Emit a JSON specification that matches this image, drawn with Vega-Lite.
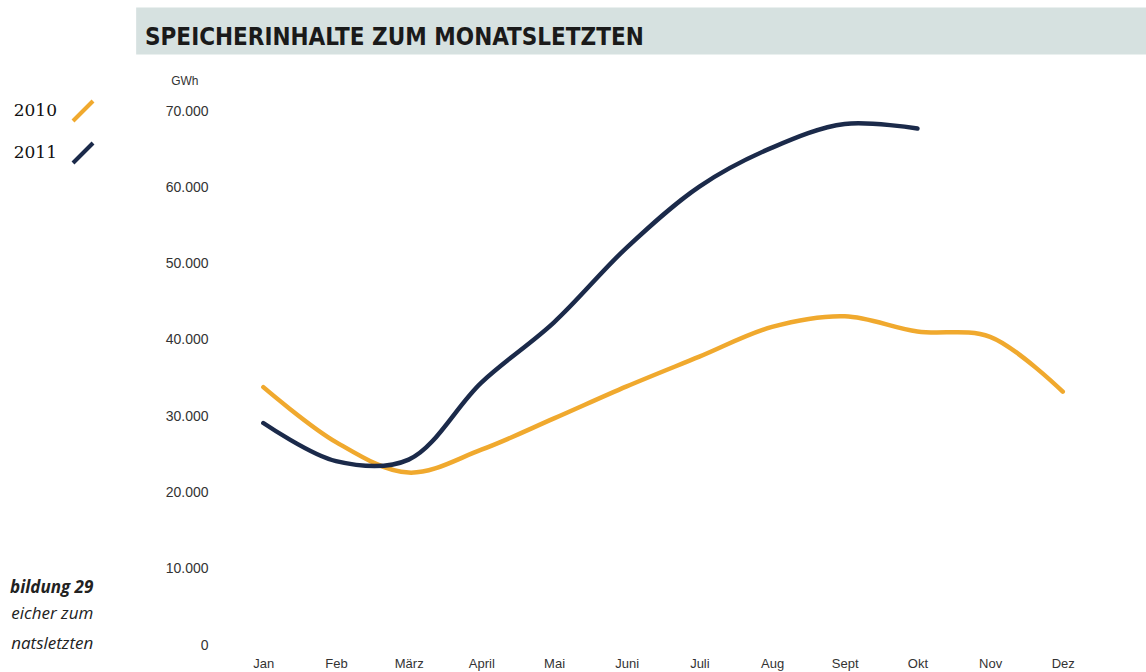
{
  "$schema": "https://vega.github.io/schema/vega-lite/v6.json",
  "width": 883,
  "height": 534,
  "autosize": {"type": "none"},
  "padding": {"left": 227, "top": 111, "right": 36, "bottom": 27},
  "background": "white",
  "config": {"view": {"stroke": null}},
  "title": {
    "text": "SPEICHERINHALTE ZUM MONATSLETZTEN",
    "anchor": "start",
    "frame": "group",
    "dx": -82,
    "offset": -61,
    "baseline": "alphabetic",
    "font": "Liberation Sans Narrow, DejaVu Sans Condensed, Liberation Sans, sans-serif",
    "fontSize": 24,
    "fontWeight": "bold",
    "color": "#1a1a1a",
    "zindex": 1
  },
  "datasets": {
    "speicher": [
      {"Monat": 1, "Jahr": "2010", "GWh": 33800},
      {"Monat": 2, "Jahr": "2010", "GWh": 26600},
      {"Monat": 3, "Jahr": "2010", "GWh": 22600},
      {"Monat": 4, "Jahr": "2010", "GWh": 25600},
      {"Monat": 5, "Jahr": "2010", "GWh": 29700},
      {"Monat": 6, "Jahr": "2010", "GWh": 33900},
      {"Monat": 7, "Jahr": "2010", "GWh": 37800},
      {"Monat": 8, "Jahr": "2010", "GWh": 41700},
      {"Monat": 9, "Jahr": "2010", "GWh": 43100},
      {"Monat": 10, "Jahr": "2010", "GWh": 41100},
      {"Monat": 11, "Jahr": "2010", "GWh": 40400},
      {"Monat": 12, "Jahr": "2010", "GWh": 33200},
      {"Monat": 1, "Jahr": "2011", "GWh": 29100},
      {"Monat": 2, "Jahr": "2011", "GWh": 24100},
      {"Monat": 3, "Jahr": "2011", "GWh": 24300},
      {"Monat": 4, "Jahr": "2011", "GWh": 34400},
      {"Monat": 5, "Jahr": "2011", "GWh": 42300},
      {"Monat": 6, "Jahr": "2011", "GWh": 52100},
      {"Monat": 7, "Jahr": "2011", "GWh": 60100},
      {"Monat": 8, "Jahr": "2011", "GWh": 65200},
      {"Monat": 9, "Jahr": "2011", "GWh": 68300},
      {"Monat": 10, "Jahr": "2011", "GWh": 67700}
    ],
    "banner": [{"Bereich": "Titelband"}]
  },
  "layer": [
    {
      "data": {"name": "banner"},
      "mark": {"type": "rect", "color": "#d6e1e0", "clip": false},
      "encoding": {
        "x": {"datum": -0.75, "type": "quantitative"},
        "x2": {"datum": 14},
        "y": {"datum": 83560, "type": "quantitative"},
        "y2": {"datum": 77400}
      }
    },
    {
      "data": {"name": "speicher"},
      "mark": {"type": "line", "interpolate": "catmull-rom", "strokeWidth": 4.5, "strokeCap": "round", "strokeJoin": "round"},
      "encoding": {
        "x": {
          "field": "Monat",
          "type": "quantitative",
          "scale": {"domain": [0.5, 12.65], "nice": false, "zero": false},
          "axis": {
            "values": [1, 2, 3, 4, 5, 6, 7, 8, 9, 10, 11, 12],
            "labelExpr": "['Jan','Feb','März','April','Mai','Juni','Juli','Aug','Sept','Okt','Nov','Dez'][datum.value - 1]",
            "grid": false,
            "ticks": false,
            "domain": false,
            "labelPadding": 12,
            "labelFont": "Liberation Sans",
            "labelFontSize": 13,
            "labelColor": "#333333",
            "title": null
          }
        },
        "y": {
          "field": "GWh",
          "type": "quantitative",
          "scale": {"domain": [0, 70000], "nice": false, "zero": true},
          "axis": {
            "values": [0, 10000, 20000, 30000, 40000, 50000, 60000, 70000],
            "labelExpr": "replace(format(datum.value, ','), ',', '.')",
            "ticks": false,
            "domain": false,
            "labelPadding": 19,
            "labelFont": "Liberation Sans",
            "labelFontSize": 14,
            "labelColor": "#333333",
            "gridColor": {"condition": {"test": "datum.value < 20000", "value": "transparent"}, "value": "#dcdcdc"},
            "gridWidth": 1.5,
            "title": "GWh",
            "titleAngle": 0,
            "titleAlign": "right",
            "titleBaseline": "middle",
            "titleX": -29,
            "titleY": -31,
            "titleFont": "Liberation Sans",
            "titleFontSize": 12,
            "titleFontWeight": "normal",
            "titleColor": "#333333"
          }
        },
        "color": {
          "field": "Jahr",
          "type": "nominal",
          "scale": {"domain": ["2010", "2011"], "range": ["#f0a92e", "#1b2a4a"]},
          "legend": {
            "orient": "none",
            "legendX": -156,
            "legendY": -12,
            "title": null,
            "padding": 0,
            "symbolType": "M-1,1L1,-1",
            "symbolSize": 400,
            "symbolStrokeWidth": 4,
            "labelAlign": "right",
            "labelOffset": -38,
            "labelFont": "DejaVu Serif",
            "labelFontSize": 17,
            "labelColor": "#111111",
            "rowPadding": 6
          }
        }
      }
    },
    {
      "data": {"name": "banner"},
      "mark": {"type": "text", "align": "right", "baseline": "middle", "font": "Open Sans", "fontStyle": "italic", "fontWeight": "bold", "fontSize": 17, "color": "#222222", "clip": false},
      "encoding": {
        "x": {"datum": -1.34, "type": "quantitative"},
        "y": {"datum": 7520, "type": "quantitative"},
        "text": {"value": "bildung 29"}
      }
    },
    {
      "data": {"name": "banner"},
      "mark": {"type": "text", "align": "right", "baseline": "middle", "font": "Open Sans", "fontStyle": "italic", "fontSize": 17, "color": "#222222", "clip": false},
      "encoding": {
        "x": {"datum": -1.34, "type": "quantitative"},
        "y": {"datum": 4010, "type": "quantitative"},
        "text": {"value": "eicher zum"}
      }
    },
    {
      "data": {"name": "banner"},
      "mark": {"type": "text", "align": "right", "baseline": "middle", "font": "Open Sans", "fontStyle": "italic", "fontSize": 17, "color": "#222222", "clip": false},
      "encoding": {
        "x": {"datum": -1.34, "type": "quantitative"},
        "y": {"datum": 80, "type": "quantitative"},
        "text": {"value": "natsletzten"}
      }
    }
  ]
}
